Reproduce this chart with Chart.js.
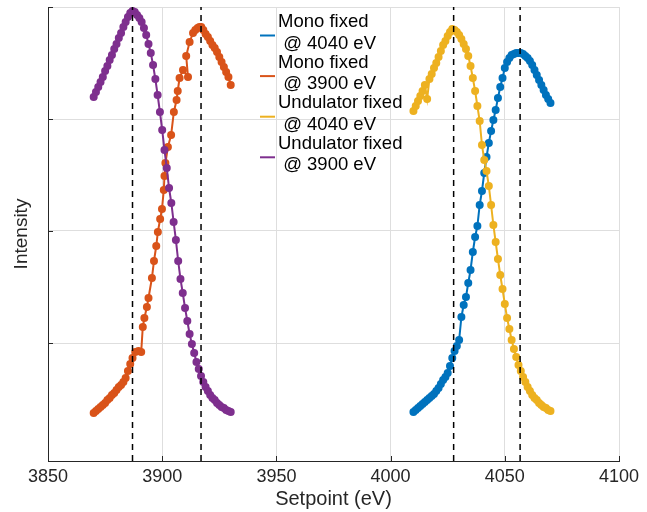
<!DOCTYPE html>
<html lang="en">
<head>
<meta charset="UTF-8">
<title>Setpoint scans</title>
<script src="https://cdn.jsdelivr.net/npm/chart.js"></script>
<style>
    body { margin: 0; background: #fff; }
    canvas { display: block; }
</style>
</head>
<body>
<canvas id="scanChart" width="647" height="512"></canvas>
<script>
// scan energies (eV)
var energyLow = [3870, 3871, 3872, 3873, 3874, 3875, 3876, 3877, 3878, 3879, 3880, 3881, 3882, 3883, 3884, 3885, 3886, 3887, 3888, 3889, 3890, 3891, 3892, 3893, 3894, 3895, 3896, 3897, 3898, 3899, 3900, 3901, 3902, 3903, 3904, 3905, 3906, 3907, 3908, 3909, 3910, 3911, 3912, 3913, 3914, 3915, 3916, 3917, 3918, 3919, 3920, 3921, 3922, 3923, 3924, 3925, 3926, 3927, 3928, 3929, 3930];
var energyHigh = [4010, 4011, 4012, 4013, 4014, 4015, 4016, 4017, 4018, 4019, 4020, 4021, 4022, 4023, 4024, 4025, 4026, 4027, 4028, 4029, 4030, 4031, 4032, 4033, 4034, 4035, 4036, 4037, 4038, 4039, 4040, 4041, 4042, 4043, 4044, 4045, 4046, 4047, 4048, 4049, 4050, 4051, 4052, 4053, 4054, 4055, 4056, 4057, 4058, 4059, 4060, 4061, 4062, 4063, 4064, 4065, 4066, 4067, 4068, 4069, 4070];
// mono @ 3900 was sampled unevenly
var energyMono3900 = [3870, 3871, 3872, 3873, 3874, 3875, 3876, 3877, 3878, 3879, 3880, 3881, 3882, 3883, 3884, 3885, 3886, 3887, 3888.2, 3889.6, 3890.8, 3891.5, 3892.2, 3893.3, 3894, 3895.5, 3896.4, 3897.4, 3898.1, 3899.1, 3899.9, 3900.7, 3901, 3901.4, 3902.5, 3903.9, 3905.1, 3906.3, 3906.8, 3907.6, 3909.1, 3911.3, 3910.5, 3912, 3913.5, 3914.5, 3915.5, 3916.3, 3917.1, 3918, 3919, 3920, 3921, 3922, 3923, 3924, 3925, 3926, 3927, 3928, 3929, 3930];

// intensities (arb. units)
var mono4040 = [43, 45, 47, 49, 51, 53, 55, 57, 59, 61, 64, 67, 71, 75, 78, 82, 89, 97, 104, 109, 115, 138, 150, 158, 172, 185, 203, 218, 229, 250, 264, 282, 298, 312, 324, 335, 345, 357, 368, 377, 387, 393, 397, 400, 401, 402, 402, 402, 401, 399, 397, 394, 390, 385, 380, 375, 370, 365, 360, 356, 352];
var mono3900 = [42, 44, 46, 48, 50, 52, 55, 57, 60, 62, 65, 68, 70, 73, 77, 84, 91, 97, 103, 104, 103, 128, 137, 148, 157, 177, 194, 209, 223, 236, 246, 265, 279, 292, 308, 320, 343, 355, 364, 377, 385, 378, 399, 413, 422, 425, 427, 428, 428, 425, 421, 418, 414, 410, 407, 403, 398, 393, 388, 383, 378, 370];
var und4040 = [344, 349, 354, 359, 364, 370, 356, 376, 381, 387, 392, 398, 404, 410, 414, 419, 423, 426, 425, 423, 420, 416, 411, 406, 399, 389, 377, 364, 349, 334, 310, 295, 284, 269, 250, 230, 213, 196, 180, 166, 151, 137, 126, 115, 106, 98, 90, 84, 78, 73, 68, 64, 60, 57, 55, 52, 50, 48, 47, 45, 44];
var und3900 = [358, 363, 368, 373, 378, 384, 389, 395, 400, 406, 411, 417, 422, 428, 433, 438, 442, 444, 443, 440, 437, 433, 427, 420, 411, 402, 390, 376, 360, 343, 325, 305, 287, 267, 252, 233, 215, 194, 176, 162, 147, 134, 121, 111, 102, 93, 86, 79, 73, 68, 64, 60, 57, 55, 52, 50, 48, 47, 45, 44, 43];

var seriesLabels = [
    ['Mono fixed', ' @ 4040 eV'],
    ['Mono fixed', ' @ 3900 eV'],
    ['Undulator fixed', ' @ 4040 eV'],
    ['Undulator fixed', ' @ 3900 eV']
];
var seriesColors = ['#0072BD', '#D95319', '#EDB120', '#7E2F8E'];

// peak positions marked with dashed lines
var peakLines = [3887, 3917, 4027.6, 4056.7];

var xTicks = [3850, 3900, 3950, 4000, 4050, 4100];
var yGrid = [112, 224, 336, 448];
var yMin = -6, yMax = 448;

function toPoints(xs, ys) {
    return ys.map(function (y, i) { return { x: xs[i], y: y }; });
}

var seriesData = [
    toPoints(energyHigh, mono4040),
    toPoints(energyMono3900, mono3900),
    toPoints(energyHigh, und4040),
    toPoints(energyLow, und3900)
];

var datasets = seriesData.map(function (pts, i) {
    return {
        label: seriesLabels[i].join(''),
        legendLines: seriesLabels[i],
        data: pts,
        showLine: true,
        borderColor: seriesColors[i],
        backgroundColor: seriesColors[i],
        borderWidth: 2,
        pointRadius: 4,
        pointBorderWidth: 0,
        pointBackgroundColor: seriesColors[i],
        order: 4 - i
    };
});

peakLines.forEach(function (e) {
    datasets.push({
        data: [{ x: e, y: yMin }, { x: e, y: yMax }],
        showLine: true,
        borderColor: '#000',
        borderWidth: 1.5,
        borderDash: [6, 5],
        pointRadius: 0,
        order: -1
    });
});

var fontFamily = '"Liberation Sans", Arial, Helvetica, sans-serif';
Chart.defaults.font.family = fontFamily;
Chart.defaults.color = '#262626';

// legend drawn inside the axes, two text lines per entry
var insideLegend = {
    id: 'insideLegend',
    afterDraw: function (chart) {
        var ctx = chart.ctx;
        ctx.save();
        ctx.font = '18.5px ' + fontFamily;
        ctx.textBaseline = 'alphabetic';
        chart.data.datasets.forEach(function (ds, i) {
            if (!ds.legendLines) return;
            var base = 27 + i * 40.6;
            ctx.strokeStyle = ds.borderColor;
            ctx.lineWidth = 2;
            ctx.beginPath();
            ctx.moveTo(260, base + 8.5);
            ctx.lineTo(275, base + 8.5);
            ctx.stroke();
            ctx.fillStyle = '#000';
            ctx.fillText(ds.legendLines[0], 278, base);
            ctx.fillText(ds.legendLines[1], 278, base + 21.6);
        });
        ctx.restore();
    }
};

// small inward tick marks like the original axes
var inwardTicks = {
    id: 'inwardTicks',
    afterDraw: function (chart) {
        var ctx = chart.ctx, area = chart.chartArea;
        ctx.save();
        ctx.strokeStyle = '#262626';
        ctx.lineWidth = 1;
        ctx.beginPath();
        chart.scales.x.ticks.forEach(function (t) {
            var px = Math.round(chart.scales.x.getPixelForValue(t.value)) + 0.5;
            ctx.moveTo(px, area.bottom);
            ctx.lineTo(px, area.bottom - 5);
        });
        chart.scales.y.ticks.forEach(function (t) {
            var py = Math.round(chart.scales.y.getPixelForValue(t.value)) + 0.5;
            ctx.moveTo(area.left, py);
            ctx.lineTo(area.left + 5, py);
        });
        ctx.stroke();
        ctx.restore();
    }
};

var ctxScan = document.getElementById('scanChart').getContext('2d');
var scanChart = new Chart(ctxScan, {
    type: 'scatter',
    data: { datasets: datasets },
    options: {
        responsive: false,
        animation: false,
        layout: { padding: { left: 0, right: 28, top: 7, bottom: 0 } },
        plugins: {
            legend: { display: false },
            tooltip: { enabled: false }
        },
        scales: {
            x: {
                type: 'linear',
                position: 'bottom',
                min: 3850,
                max: 4100,
                afterBuildTicks: function (scale) {
                    scale.ticks = xTicks.map(function (v) { return { value: v }; });
                },
                ticks: {
                    font: { size: 18 },
                    padding: 5,
                    maxRotation: 0,
                    callback: function (value) { return String(value); }
                },
                grid: { color: '#dedede', drawTicks: false },
                border: { color: '#262626', width: 1 },
                title: { display: true, text: 'Setpoint (eV)', font: { size: 20 }, padding: { top: 0, bottom: 1 } },
                afterFit: function (scale) { scale.height = 51; }
            },
            y: {
                type: 'linear',
                min: yMin,
                max: yMax,
                afterBuildTicks: function (scale) {
                    scale.ticks = yGrid.map(function (v) { return { value: v }; });
                },
                ticks: { display: false },
                grid: { color: '#dedede', drawTicks: false },
                border: { color: '#262626', width: 1 },
                title: { display: true, text: 'Intensity', font: { size: 19 }, padding: { top: 10, bottom: 0 } },
                afterFit: function (scale) { scale.width = 48; }
            }
        }
    },
    plugins: [insideLegend, inwardTicks]
});
</script>
</body>
</html>
